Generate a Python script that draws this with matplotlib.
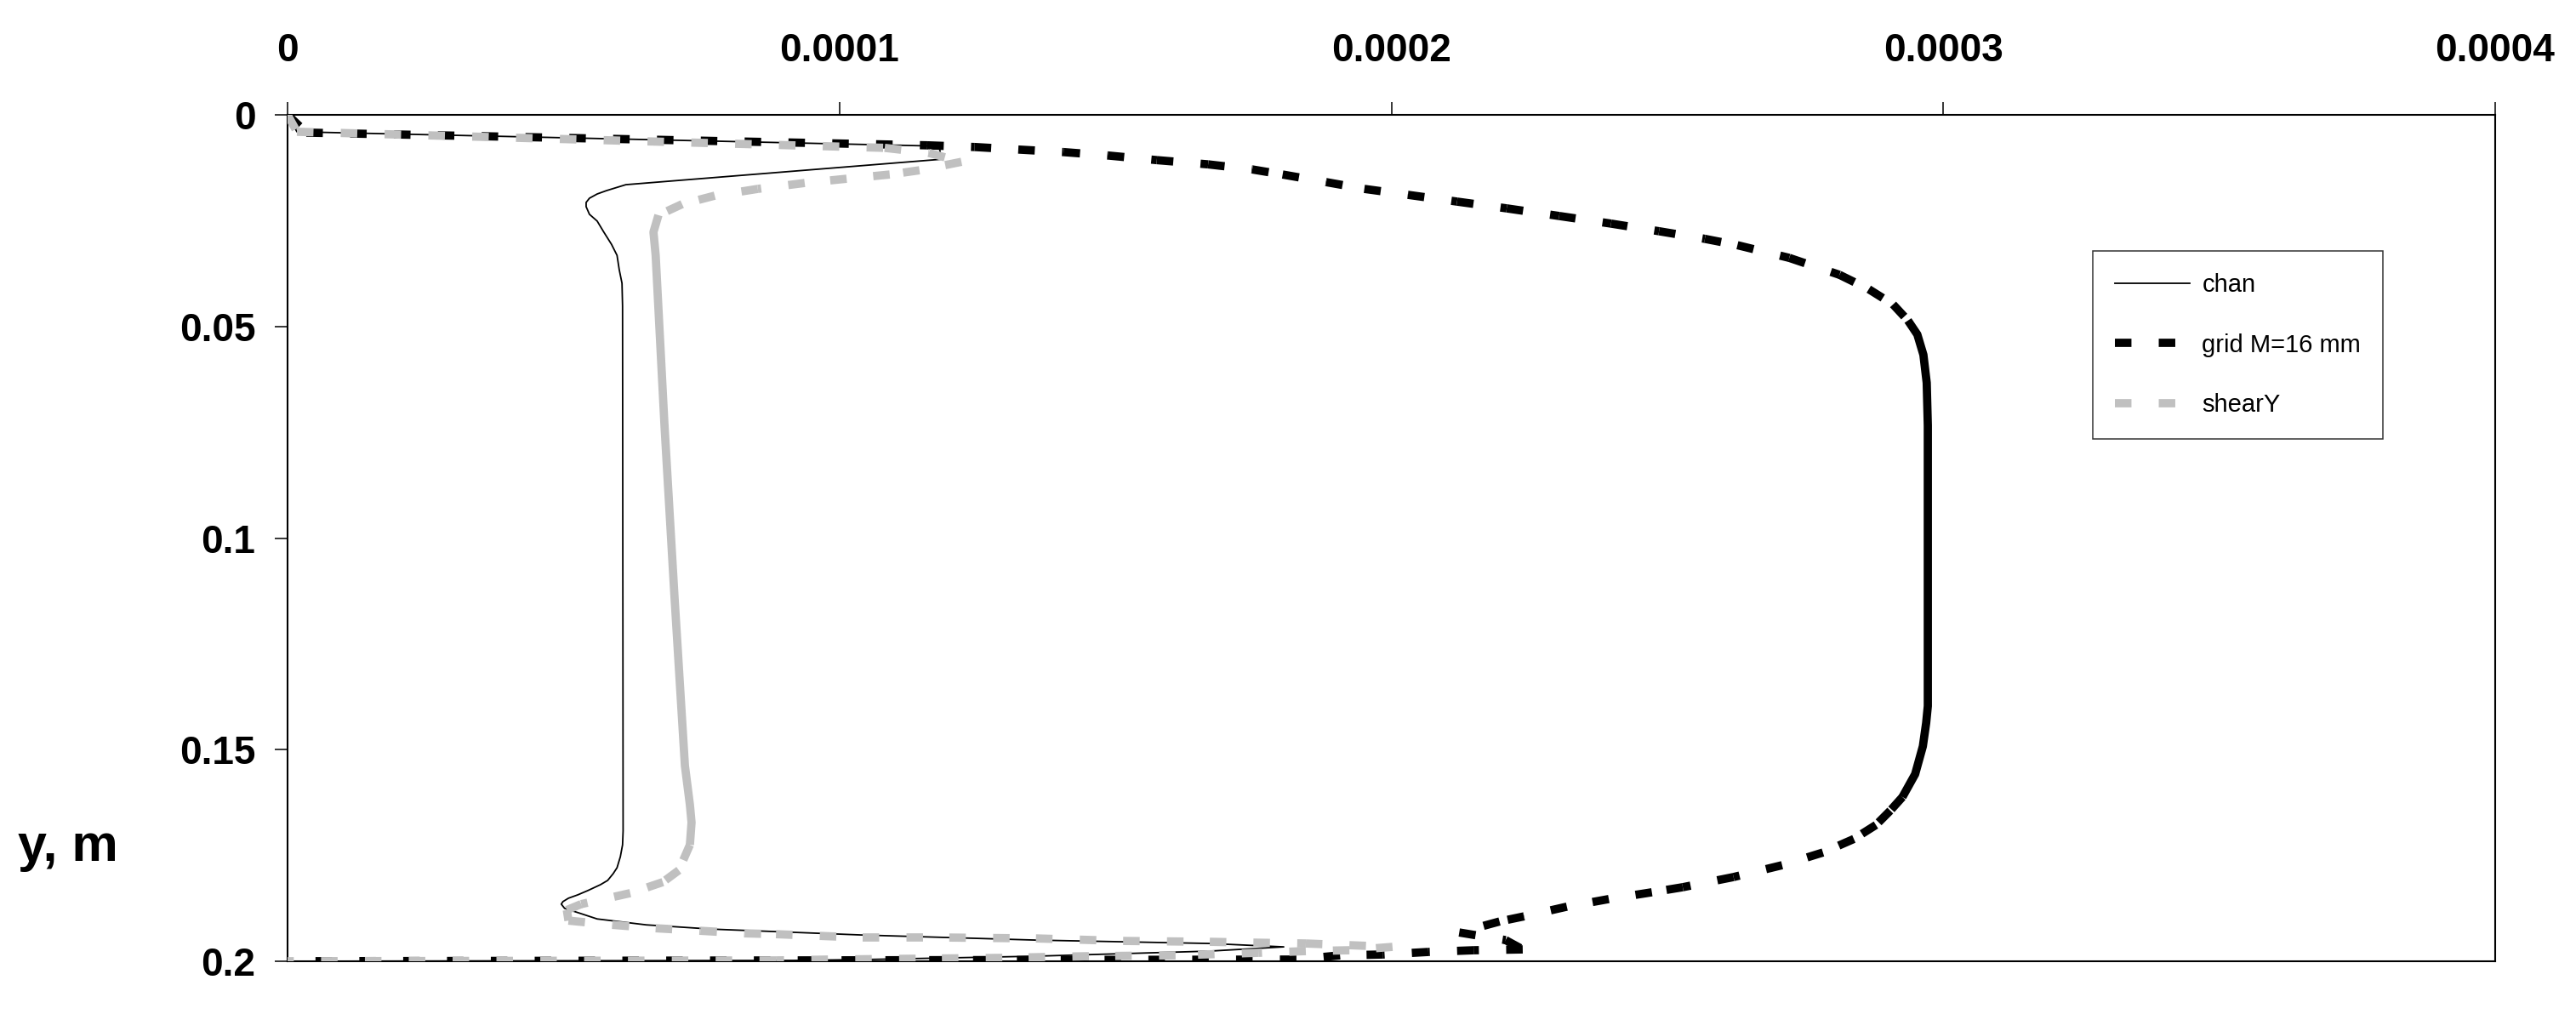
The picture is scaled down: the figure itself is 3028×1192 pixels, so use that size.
import matplotlib
matplotlib.use("Agg")
import matplotlib.pyplot as plt
from matplotlib.collections import LineCollection
from matplotlib.lines import Line2D

plt.rcParams['font.family'] = ['Liberation Sans', 'DejaVu Sans']

# profiles, x = value, y = position across channel (m)
chan_x = [0, 1.70e-6, 1.181e-4, 1.184e-4, 6.13e-5, 5.78e-5, 5.61e-5, 5.47e-5, 5.41e-5,
          5.41e-5, 5.47e-5, 5.61e-5, 5.73e-5, 5.87e-5, 5.97e-5, 6.01e-5, 6.06e-5, 6.07e-5,
          6.08e-5, 6.07e-5, 6.03e-5, 5.97e-5, 5.90e-5, 5.80e-5, 5.67e-5, 5.44e-5, 5.26e-5,
          5.09e-5, 4.99e-5, 4.96e-5, 5.02e-5, 5.26e-5, 5.61e-5, 6.50e-5, 7.68e-5, 1.042e-4,
          1.356e-4, 1.671e-4, 1.805e-4, 1.671e-4, 1.356e-4, 1.042e-4, 9.17e-5, 0]
chan_y = [0, 0.0040, 0.0074, 0.0105, 0.0165, 0.0179, 0.0187, 0.0197, 0.0207,
          0.0217, 0.0235, 0.0251, 0.0277, 0.0306, 0.0332, 0.0366, 0.0398, 0.0452,
          0.1692, 0.1725, 0.1753, 0.1779, 0.1793, 0.1809, 0.1819, 0.1833, 0.1843,
          0.1851, 0.1859, 0.1865, 0.1875, 0.1885, 0.1900, 0.1914, 0.1924, 0.1938,
          0.1950, 0.1958, 0.1966, 0.1976, 0.1988, 0.1996, 0.1998, 0.2]

grid_x = [0, 3.40e-6, 1.159e-4, 1.245e-4, 1.324e-4, 1.406e-4, 1.486e-4, 1.575e-4,
          1.668e-4, 1.748e-4, 1.803e-4, 1.882e-4, 1.951e-4, 2.030e-4, 2.119e-4,
          2.209e-4, 2.304e-4, 2.398e-4, 2.485e-4, 2.568e-4, 2.627e-4, 2.721e-4,
          2.812e-4, 2.865e-4, 2.909e-4, 2.936e-4, 2.953e-4, 2.964e-4, 2.970e-4,
          2.972e-4, 2.972e-4, 2.969e-4, 2.963e-4, 2.949e-4, 2.926e-4, 2.904e-4,
          2.878e-4, 2.838e-4, 2.782e-4, 2.708e-4, 2.620e-4, 2.528e-4, 2.472e-4,
          2.394e-4, 2.318e-4, 2.240e-4, 2.196e-4, 2.123e-4, 2.207e-4, 2.238e-4,
          2.149e-4, 2.067e-4, 1.985e-4, 1.907e-4, 1.828e-4, 0]
grid_y = [0, 0.0042, 0.0072, 0.0076, 0.0082, 0.0088, 0.0096, 0.0107,
          0.0117, 0.0129, 0.0141, 0.0159, 0.0175, 0.0189, 0.0205,
          0.0221, 0.0239, 0.0257, 0.0275, 0.0293, 0.0308, 0.0338,
          0.0378, 0.0412, 0.0448, 0.0486, 0.0519, 0.0567, 0.0633,
          0.0734, 0.1397, 0.1437, 0.1492, 0.1558, 0.1612, 0.1644,
          0.1678, 0.1711, 0.1743, 0.1773, 0.1801, 0.1825, 0.1837,
          0.1853, 0.1871, 0.1894, 0.1906, 0.1932, 0.1950, 0.1972,
          0.1974, 0.1978, 0.1984, 0.1986, 0.1996, 0.2]

shear_x = [0, 1.70e-6, 1.082e-4, 1.162e-4, 1.221e-4, 1.145e-4, 1.091e-4, 1.013e-4,
           9.37e-5, 8.52e-5, 7.74e-5, 7.15e-5, 6.72e-5, 6.63e-5, 6.67e-5, 6.83e-5,
           7.01e-5, 7.20e-5, 7.29e-5, 7.32e-5, 7.29e-5, 7.09e-5, 6.80e-5, 6.21e-5,
           5.32e-5, 5.06e-5, 5.09e-5, 5.89e-5, 6.67e-5, 7.48e-5, 8.28e-5, 8.85e-5,
           1.042e-4, 1.199e-4, 1.356e-4, 1.514e-4, 1.671e-4, 1.750e-4, 1.845e-4,
           1.924e-4, 2.002e-4, 1.924e-4, 1.845e-4, 1.759e-4, 1.609e-4, 1.452e-4,
           1.295e-4, 1.138e-4, 9.79e-5, 8.85e-5, 0]
shear_y = [0, 0.0040, 0.0078, 0.0090, 0.0111, 0.0131, 0.0141, 0.0151,
           0.0161, 0.0175, 0.0191, 0.0211, 0.0237, 0.0277, 0.0332, 0.0734,
           0.1136, 0.1538, 0.1630, 0.1672, 0.1725, 0.1785, 0.1813, 0.1839,
           0.1865, 0.1879, 0.1904, 0.1914, 0.1922, 0.1928, 0.1934, 0.1936,
           0.1944, 0.1944, 0.1946, 0.1952, 0.1954, 0.1956, 0.1958,
           0.1962, 0.1966, 0.1974, 0.1976, 0.1980, 0.1986, 0.1988,
           0.1992, 0.1994, 0.1996, 0.1998, 0.2]

series_labels = ["chan", "grid M=16 mm", "shearY"]
x_ticks = [0, 0.0001, 0.0002, 0.0003, 0.0004]
x_tick_labels = ["0", "0.0001", "0.0002", "0.0003", "0.0004"]
y_ticks = [0, 0.05, 0.1, 0.15, 0.2]
y_tick_labels = ["0", "0.05", "0.1", "0.15", "0.2"]

# point ranges where the points are packed so close the dashes merge
grid_solid = (25, 34)
shear_solid = (12, 20)

LW = 7
DASH = (2, 3.3)
GRAY = "#c0c0c0"


def dashed_series(ax, xs, ys, solid, color, z):
    # dash pattern restarts on every segment, like the spreadsheet did
    segs = []
    for i in range(len(xs) - 1):
        if solid[0] <= i < solid[1]:
            continue
        segs.append([(xs[i], ys[i]), (xs[i + 1], ys[i + 1])])
    lc = LineCollection(segs, colors=color, linewidths=LW,
                        linestyles=[(0, DASH)], capstyle='butt', zorder=z)
    ax.add_collection(lc)
    ax.plot(xs[solid[0]:solid[1] + 1], ys[solid[0]:solid[1] + 1], color=color,
            lw=LW, solid_capstyle='butt', solid_joinstyle='round', zorder=z)


fig = plt.figure(figsize=(30.28, 11.92), dpi=100)
ax = fig.add_axes([338 / 3028, 1 - 1130 / 1192, (2933 - 338) / 3028, (1130 - 135) / 1192])

ax.plot(chan_x, chan_y, color='black', lw=1.3, zorder=2)
dashed_series(ax, grid_x, grid_y, grid_solid, 'black', 3)
dashed_series(ax, shear_x, shear_y, shear_solid, GRAY, 4)

ax.set_xlim(0, 0.0004)
ax.set_ylim(0.2, 0)
ax.xaxis.tick_top()
ax.set_xticks(x_ticks)
ax.set_xticklabels(x_tick_labels, fontsize=33, fontweight='bold')
ax.set_yticks(y_ticks)
ax.set_yticklabels(y_tick_labels, fontsize=33, fontweight='bold')
ax.tick_params(axis='x', direction='out', length=11, width=1.1, pad=27)
ax.tick_params(axis='y', direction='out', length=11, width=1.1, pad=16)
for s in ax.spines.values():
    s.set_linewidth(1.5)

fig.text(80 / 3028, 1 - 1012 / 1192, "y, m", fontsize=44, fontweight='bold',
         ha='center', va='baseline')

handles = [Line2D([], [], color='black', lw=1.3),
           Line2D([], [], color='black', lw=LW, dashes=DASH, dash_capstyle='butt'),
           Line2D([], [], color=GRAY, lw=LW, dashes=DASH, dash_capstyle='butt')]
leg = ax.legend(handles, series_labels, loc='upper left',
                bbox_to_anchor=(2460 / 3028, 1 - 295 / 1192), bbox_transform=fig.transFigure,
                fontsize=21, frameon=True, fancybox=False, shadow=False,
                borderaxespad=0, borderpad=0.9, labelspacing=1.45,
                handlelength=3.0, handletextpad=0.5)
leg.get_frame().set_edgecolor('black')
leg.get_frame().set_linewidth(1.1)

plt.savefig("out.png", dpi=100)
